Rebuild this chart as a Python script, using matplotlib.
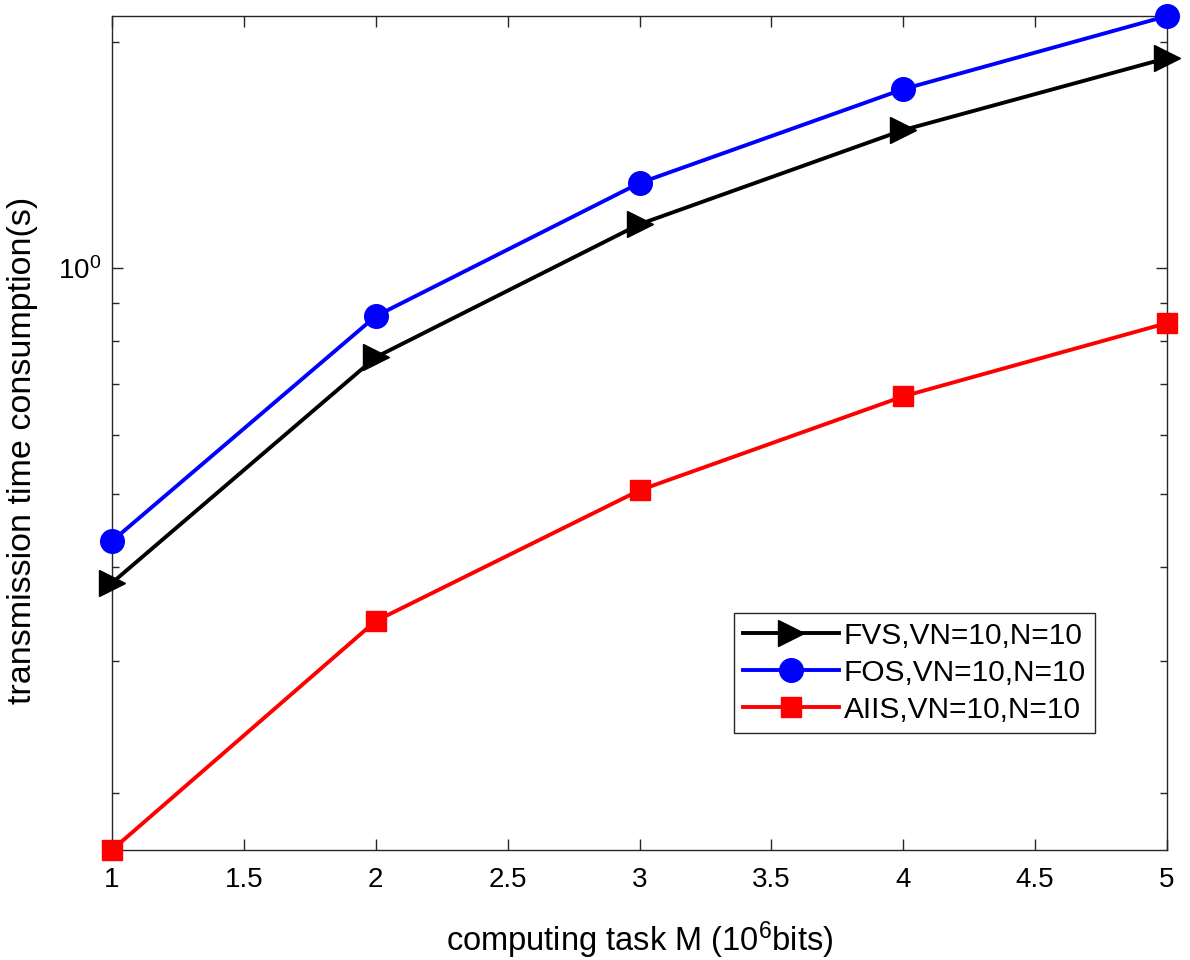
import matplotlib
matplotlib.use("Agg")
import matplotlib.pyplot as plt
from matplotlib.ticker import FixedLocator, FixedFormatter, NullFormatter

plt.rcParams["font.family"] = ["Liberation Sans", "DejaVu Sans"]
plt.rcParams["mathtext.fontset"] = "custom"
plt.rcParams["mathtext.rm"] = "Liberation Sans"
plt.rcParams["mathtext.it"] = "Liberation Sans:italic"

# data
task_m = [1, 2, 3, 4, 5]
fvs = [0.381, 0.761, 1.144, 1.527, 1.904]
fos = [0.433, 0.863, 1.298, 1.731, 2.166]
aiis = [0.168, 0.339, 0.506, 0.675, 0.845]
labels = ["FVS,VN=10,N=10", "FOS,VN=10,N=10", "AIIS,VN=10,N=10"]
x_ticks = [1, 1.5, 2, 2.5, 3, 3.5, 4, 4.5, 5]
x_tick_labels = ["1", "1.5", "2", "2.5", "3", "3.5", "4", "4.5", "5"]

fig = plt.figure(figsize=(11.9, 9.6), dpi=100)
ax = fig.add_axes([0.0941, 0.1146, 0.8866, 0.8687])

ax.plot(task_m, fvs, color="black", lw=2.8, marker=">", ms=19, label=labels[0], clip_on=False, zorder=3)
ax.plot(task_m, fos, color="blue", lw=2.8, marker="o", ms=17, label=labels[1], clip_on=False, zorder=3)
ax.plot(task_m, aiis, color="red", lw=2.8, marker="s", ms=14, label=labels[2], clip_on=False, zorder=3)

ax.set_yscale("log")
ax.set_xlim(1, 5)
ax.set_ylim(min(aiis), max(fos))

ax.xaxis.set_major_locator(FixedLocator(x_ticks))
ax.xaxis.set_major_formatter(FixedFormatter(x_tick_labels))
ax.yaxis.set_major_locator(FixedLocator([1.0]))
ax.yaxis.set_major_formatter(FixedFormatter(["$10^{0}$"]))
ax.yaxis.set_minor_locator(FixedLocator([0.2, 0.3, 0.4, 0.5, 0.6, 0.7, 0.8, 0.9, 2.0]))
ax.yaxis.set_minor_formatter(NullFormatter())

ax.tick_params(which="both", direction="in", top=True, right=True, color="#262626", labelsize=20, width=1)
ax.tick_params(which="major", length=8)
ax.tick_params(which="minor", length=5)
ax.tick_params(axis="x", pad=12)
ax.tick_params(axis="y", pad=8)
for s in ax.spines.values():
    s.set_color("#262626")
    s.set_linewidth(1)

ax.set_xlabel("computing task M (10$^6$bits)", fontsize=23.5)
ax.set_ylabel("transmission time consumption(s)", fontsize=24.5)
ax.xaxis.set_label_coords(0.5, -0.083)
ax.yaxis.set_label_coords(-0.07, 0.479)

leg = ax.legend(loc="upper left", bbox_to_anchor=(0.590, 0.2845), borderaxespad=0,
                fontsize=21.5, fancybox=False, framealpha=1, edgecolor="#262626",
                handlelength=3.2, handletextpad=0.15, labelspacing=0.3, borderpad=0.3)
leg.get_frame().set_linewidth(1)

fig.savefig("out.png", dpi=100)
